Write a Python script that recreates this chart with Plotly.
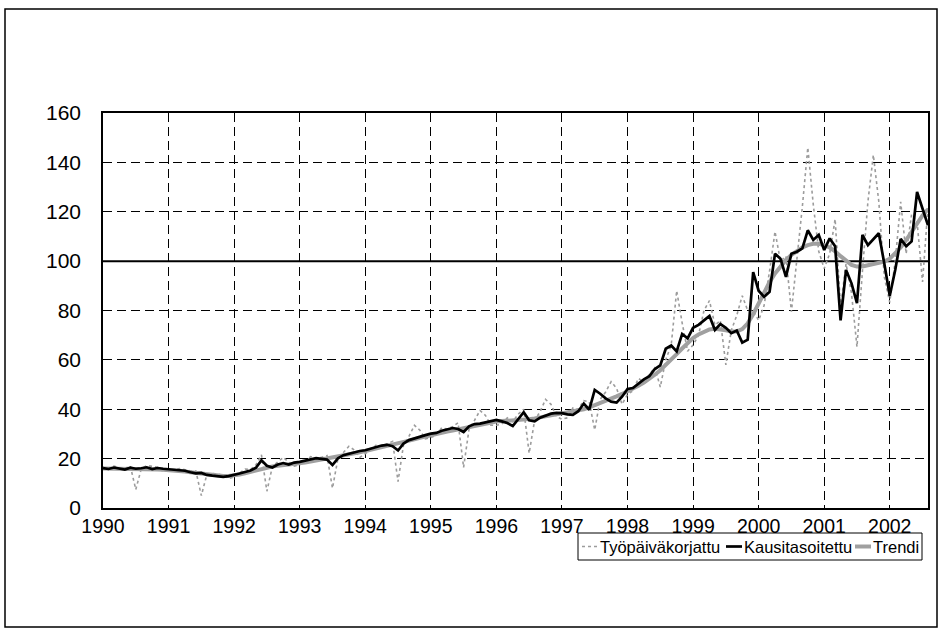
import plotly.graph_objects as go

# ---------------- data (monthly, Jan 1990 - Aug 2002) ----------------
start_year = 1990
year_ticks = [1990, 1991, 1992, 1993, 1994, 1995, 1996, 1997, 1998, 1999, 2000, 2001, 2002]
year_labels = [str(y) for y in year_ticks]
y_ticks = [0, 20, 40, 60, 80, 100, 120, 140, 160]
series_names = ["Työpäiväkorjattu", "Kausitasoitettu", "Trendi"]

tyopaivakorjattu = [
    16.5, 15.5, 17.0, 16.2, 16.0, 17.0, 7.5, 15.8, 17.2, 16.8, 16.5, 14.8,      # 1990
    15.0, 15.5, 16.0, 15.5, 15.0, 15.0, 5.0, 13.5, 14.0, 13.8, 13.2, 12.0,      # 1991
    12.5, 14.2, 15.8, 15.5, 17.5, 21.5, 6.8, 16.8, 18.8, 20.5, 18.5, 17.0,      # 1992
    17.5, 18.8, 20.8, 20.0, 20.5, 21.2, 8.0, 20.0, 22.5, 25.0, 23.5, 20.5,      # 1993
    22.0, 23.5, 25.5, 25.0, 26.0, 27.0, 10.7, 25.5, 29.0, 33.5, 31.5, 28.0,     # 1994
    28.5, 29.5, 32.5, 32.0, 33.0, 34.5, 16.5, 32.0, 35.5, 39.5, 37.5, 33.5,     # 1995
    33.5, 34.0, 36.5, 35.0, 38.0, 40.0, 22.2, 35.5, 39.0, 44.0, 42.0, 37.0,     # 1996
    36.0, 36.5, 40.5, 40.0, 43.5, 43.0, 31.6, 44.0, 47.0, 51.2, 48.5, 42.0,     # 1997
    46.0, 47.5, 52.5, 51.0, 54.0, 57.0, 49.0, 60.0, 66.0, 88.0, 75.0, 63.5,     # 1998
    66.0, 70.0, 80.0, 84.0, 74.0, 76.0, 58.0, 72.0, 78.0, 86.0, 80.0, 80.0,     # 1999
    76.0, 82.0, 96.0, 112.0, 100.0, 102.0, 79.5, 100.0, 122.0, 146.0, 123.0, 104.0,  # 2000
    97.0, 103.0, 117.0, 81.5, 99.0, 87.0, 65.3, 96.0, 124.0, 143.0, 124.0, 93.6,     # 2001
    83.3, 100.0, 124.0, 103.0, 119.0, 116.0, 91.6, 122.0,                         # 2002
]

kausitasoitettu = [
    16.2, 15.8, 16.4, 16.0, 15.6, 16.3, 15.9, 16.1, 16.5, 15.8, 16.2, 15.9,     # 1990
    15.8, 15.5, 15.3, 15.1, 14.5, 14.0, 14.2, 13.4, 13.1, 12.7, 12.6, 12.9,     # 1991
    13.3, 14.0, 14.6, 15.2, 16.3, 19.3, 17.1, 16.4, 17.6, 18.2, 17.6, 18.4,     # 1992
    18.7, 19.1, 19.8, 20.2, 19.9, 19.6, 17.4, 20.1, 21.4, 22.0, 22.7, 23.1,     # 1993
    23.4, 24.1, 24.7, 25.3, 25.6, 25.0, 23.3, 26.1, 27.5, 28.2, 29.1, 29.5,     # 1994
    30.1, 30.4, 31.3, 31.7, 32.4, 32.0, 30.8, 33.1, 34.0, 34.2, 34.6, 35.3,     # 1995
    35.7, 35.1, 34.4, 33.2, 36.1, 38.8, 35.5, 35.1, 36.6, 37.5, 38.2, 38.5,     # 1996
    38.4, 37.9, 37.7, 39.2, 42.3, 39.8, 47.8, 46.3, 44.4, 43.1, 42.7, 45.1,     # 1997
    48.2, 48.6, 50.3, 52.1, 53.4, 56.3, 57.8, 64.5, 65.8, 63.4, 70.5, 68.7,     # 1998
    73.0, 74.2, 76.0, 77.8, 72.1, 74.5, 73.0, 70.8, 71.9, 67.0, 68.2, 95.5,     # 1999
    88.0, 85.5, 87.6, 103.0, 101.0, 93.6, 103.0, 103.8, 105.2, 112.5, 108.6, 110.6,  # 2000
    104.5, 109.2, 106.0, 76.0, 96.4, 91.0, 83.0, 110.6, 106.5, 109.0, 111.3, 99.0,   # 2001
    86.0, 96.4, 109.0, 106.0, 108.0, 128.0, 121.0, 114.5,                          # 2002
]

trendi = [
    16.0, 16.0, 16.0, 16.0, 15.9, 15.9, 15.8, 15.8, 15.7, 15.7, 15.6, 15.5,     # 1990
    15.4, 15.2, 15.0, 14.8, 14.5, 14.2, 13.9, 13.6, 13.3, 13.1, 13.0, 13.0,     # 1991
    13.2, 13.6, 14.1, 14.7, 15.3, 15.9, 16.4, 16.8, 17.1, 17.3, 17.5, 17.7,     # 1992
    18.0, 18.4, 18.8, 19.2, 19.5, 19.8, 20.2, 20.6, 21.1, 21.6, 22.1, 22.6,     # 1993
    23.1, 23.6, 24.0, 24.5, 25.0, 25.5, 26.0, 26.6, 27.2, 27.8, 28.4, 29.0,     # 1994
    29.5, 30.0, 30.5, 31.0, 31.4, 31.9, 32.4, 32.9, 33.4, 33.9, 34.3, 34.7,     # 1995
    35.0, 35.2, 35.3, 35.4, 35.6, 35.8, 36.0, 36.3, 36.7, 37.1, 37.5, 37.9,     # 1996
    38.2, 38.5, 38.9, 39.4, 40.0, 40.8, 41.6, 42.5, 43.4, 44.3, 45.2, 46.2,     # 1997
    47.2, 48.3, 49.5, 50.8, 52.3, 54.0, 55.8, 57.8, 60.0, 62.3, 64.6, 66.8,     # 1998
    68.8, 70.3, 71.5, 72.3, 72.6, 72.5, 72.0, 71.5, 71.5, 72.5, 74.8, 78.5,     # 1999
    83.0, 87.5, 91.5, 95.0, 98.0, 100.5, 102.5, 104.2, 105.5, 106.5, 107.0, 107.0,   # 2000
    106.5, 105.5, 104.0, 102.0, 100.0, 98.5, 97.8, 97.8, 98.3, 98.8, 99.2, 99.8,     # 2001
    101.0, 103.0, 105.5, 108.5, 112.0, 115.5, 118.5, 121.0,                        # 2002
]

reference_level = 100

# time axis: one point per month
months = [start_year + i / 12 for i in range(len(kausitasoitettu))]

FONT = "Liberation Sans, Arial, sans-serif"

# plot area in page pixels
PL, PR, PT, PB = 103, 928, 113, 508
W, H = 945, 637


def px_x(px):
    return (px - PL) / (PR - PL)


def px_y(py):
    return (PB - py) / (PB - PT)


styles = [
    dict(color="#9c9c9c", width=1.6, dash="dot"),
    dict(color="#000000", width=2.7),
    dict(color="#a0a0a0", width=4),
]

fig = go.Figure()

fig.add_trace(go.Scatter(x=months, y=tyopaivakorjattu, name=series_names[0],
                         mode="lines", line=styles[0], showlegend=False))
fig.add_trace(go.Scatter(x=months, y=trendi, name=series_names[2],
                         mode="lines", line=styles[2], showlegend=False))
fig.add_trace(go.Scatter(x=months, y=kausitasoitettu, name=series_names[1],
                         mode="lines", line=styles[1], showlegend=False))

# horizontal reference line at 100
fig.add_shape(type="line", xref="paper", x0=0, x1=1, yref="y",
              y0=reference_level, y1=reference_level,
              line=dict(color="black", width=2), layer="below")

# outer chart border
fig.add_shape(type="rect", xref="paper", yref="paper",
              x0=px_x(5), x1=px_x(937), y0=px_y(627), y1=px_y(9),
              line=dict(color="black", width=1.5), fillcolor="rgba(0,0,0,0)")

# legend box (drawn)
LG_L, LG_R, LG_T, LG_B = 578, 922, 533, 560
fig.add_shape(type="rect", xref="paper", yref="paper",
              x0=px_x(LG_L), x1=px_x(LG_R), y0=px_y(LG_B), y1=px_y(LG_T),
              line=dict(color="black", width=1), fillcolor="white")
legend_items = [(582, 600), (726, 744), (855, 873)]  # (sample start, text start)
ly = (LG_T + LG_B) / 2
for (s0, t0), name, st in zip(legend_items, series_names, styles):
    fig.add_shape(type="line", xref="paper", yref="paper",
                  x0=px_x(s0), x1=px_x(t0 - 2), y0=px_y(ly), y1=px_y(ly),
                  line=dict(color=st["color"], width=st["width"],
                            dash=st.get("dash", "solid")))
    fig.add_annotation(xref="paper", yref="paper", x=px_x(t0), y=px_y(ly),
                       text=name, showarrow=False, xanchor="left",
                       yanchor="middle", xshift=-2,
                       font=dict(family=FONT, size=16.5, color="black"))

fig.update_layout(
    width=W, height=H,
    margin=dict(l=PL, r=W - PR, t=PT, b=H - PB),
    paper_bgcolor="white", plot_bgcolor="white",
    font=dict(family=FONT, size=20, color="black"),
    showlegend=False,
    xaxis=dict(
        range=[start_year, start_year + (len(kausitasoitettu) - 1) / 12],
        tickmode="array", tickvals=year_ticks, ticktext=year_labels,
        showgrid=True, gridcolor="black", gridwidth=1, griddash="9px,5px",
        showline=True, linecolor="black", linewidth=1.5, mirror=True,
        ticks="", ticklabelstandoff=0, zeroline=False,
        tickfont=dict(size=19.5),
    ),
    yaxis=dict(
        range=[0, 160], tickmode="array", tickvals=y_ticks,
        showgrid=True, gridcolor="black", gridwidth=1, griddash="9px,5px",
        showline=True, linecolor="black", linewidth=1.5, mirror=True,
        ticks="", ticklabelstandoff=16, zeroline=False,
        tickfont=dict(size=21),
    ),
)

fig.write_html("out.html", config={"displayModeBar": False},
               post_script="document.body.style.margin='0px';")
